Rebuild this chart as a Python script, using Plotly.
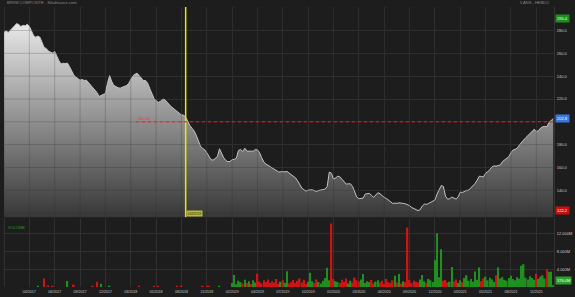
import plotly.graph_objects as go
import pandas as pd

# ---------------- data ----------------
dates = pd.date_range("2017-01-09", periods=261, freq="7D")

price = [
    278.5, 279.7, 278.3, 280.3, 281.7, 284.4, 286.1, 285.2, 283.5, 284.6,
    284.1, 285.5, 283.8, 279.7, 275.6, 274.2, 275.1, 274.2, 269.6, 265.2,
    264.3, 262.0, 261.1, 260.3, 261.7, 256.8, 253.6, 250.7, 251.3, 251.0,
    251.5, 248.4, 244.6, 241.1, 239.1, 237.9, 236.5, 237.1, 236.2, 236.5,
    234.5, 232.4, 230.4, 228.0, 225.7, 222.2, 223.1, 223.4, 224.9, 233.8,
    240.5, 235.3, 231.8, 230.9, 229.8, 229.5, 230.4, 231.2, 231.8, 233.6,
    237.0, 240.2, 241.7, 242.6, 240.5, 238.2, 236.2, 236.2, 233.8, 229.2,
    224.0, 220.5, 218.5, 217.0, 217.9, 219.6, 219.6, 217.9, 215.6, 213.5,
    212.1, 210.6, 208.9, 207.7, 206.0, 206.0, 204.0, 200.5, 196.7, 194.4,
    192.0, 188.3, 182.8, 178.7, 176.7, 175.5, 172.9, 169.1, 166.8, 166.5,
    167.7, 169.4, 176.4, 172.3, 168.5, 166.2, 165.0, 165.3, 166.8, 167.1,
    168.2, 174.9, 175.8, 174.0, 176.9, 174.3, 174.6, 174.3, 174.3, 175.8,
    175.4, 172.9, 168.5, 164.8, 163.0, 161.9, 160.1, 159.0, 158.1, 156.9,
    156.1, 156.3, 156.1, 156.2, 156.5, 155.0, 153.5, 152.4, 150.9, 148.3,
    144.8, 141.9, 140.5, 139.3, 140.2, 140.5, 140.5, 139.6, 139.0, 139.9,
    140.5, 140.5, 141.0, 143.4, 156.0, 155.0, 149.8, 150.9, 152.4, 151.8,
    149.8, 146.9, 145.4, 145.7, 145.7, 143.4, 138.7, 134.1, 132.6, 132.6,
    133.2, 136.7, 137.0, 137.3, 135.6, 133.8, 135.9, 137.9, 137.0, 135.3,
    133.8, 132.9, 131.5, 129.7, 128.5, 128.8, 128.5, 129.1, 128.5, 128.5,
    128.2, 127.6, 126.5, 125.0, 124.2, 123.0, 122.2, 123.0, 126.2, 127.9,
    127.7, 128.5, 129.4, 130.0, 131.5, 136.7, 141.3, 144.2, 143.4, 134.9,
    132.3, 132.6, 134.1, 133.5, 132.3, 134.1, 138.4, 138.1, 139.3, 139.9,
    140.2, 141.9, 144.0, 146.0, 148.9, 152.4, 152.1, 151.8, 155.0, 156.2,
    158.2, 160.5, 161.4, 161.2, 161.7, 162.3, 165.2, 166.9, 167.8, 169.5,
    173.0, 175.3, 175.9, 177.1, 179.7, 182.3, 184.1, 186.1, 187.8, 189.6,
    191.9, 193.4, 191.6, 192.2, 194.5, 195.7, 196.0, 195.8, 199.5, 201.2,
    202.8,
]

# volume in millions
volume = [
    0, 0, 0, 0, 0, 0, 0, 0, 0, 0,
    0, 0, 0, 0, 0, 0, 150, 0, 0, 1900,
    0, 340, 0, 300, 0, 0, 0, 0, 0, 0,
    1380, 0, 0, 560, 0, 0, 0, 0, 0, 0,
    0, 0, 150, 0, 1160, 0, 710, 0, 0, 0,
    150, 0, 0, 0, 0, 0, 0, 0, 0, 0,
    0, 0, 0, 0, 150, 0, 0, 0, 0, 0,
    0, 300, 0, 300, 0, 0, 0, 0, 0, 0,
    0, 0, 150, 0, 300, 0, 0, 0, 0, 0,
    0, 0, 0, 0, 100, 0, 100, 100, 0, 0,
    0, 0, 150, 0, 0, 0, 0, 0, 900, 2700,
    600, 1400, 1100, 800, 1600, 900, 1300, 700, 1500, 1000,
    3000, 1200, 800, 1500, 1100, 1700, 900, 1300, 1000, 1800,
    700, 1200, 1500, 900, 3550, 800, 1100, 1600, 900, 1400,
    1900, 1000, 1600, 700, 1200, 3200, 1300, 900, 1700, 1100,
    800, 1400, 2000, 4300, 1500, 14250, 1800, 1300, 1100, 900,
    1600, 1200, 1900, 800, 1400, 1000, 2100, 1500, 1200, 1700,
    2900, 900, 1300, 1100, 1600, 800, 1200, 1500, 1000, 1400,
    700, 1800, 1100, 900, 1500, 2500, 1000, 2900, 800, 1300,
    1100, 13350, 1600, 900, 1400, 1200, 1000, 1700, 2700, 1300,
    900, 1800, 1500, 1100, 6020, 12080, 2200, 8490, 1400, 1600,
    1000, 1200, 4500, 1300, 1700, 900, 1500, 1100, 2000, 2650,
    1400, 1800, 1200, 3500, 1600, 4400, 1300, 1900, 2300, 1500,
    2100, 1700, 1200, 2650, 4400, 1900, 2200, 1600, 1400, 2000,
    2500, 1800, 1500, 2200, 1900, 4750, 5100, 2100, 1700, 2400,
    2000, 1600, 3000, 1800, 2300, 2600, 1900, 4000, 3400, 3400,
    376,
]

price_tick_vals = [120, 140, 160, 180, 200, 220, 240, 260, 280, 300]
price_tick_text = ["", "140.0", "160.0", "180.0", "", "220.0", "240.0", "260.0", "280.0", ""]
vol_tick_vals = [4000, 8000, 12000]
vol_tick_text = ["4.000M", "8.000M", "12.000M"]

price_max, price_last, price_min = 290.4, 202.8, 122.2
vol_last_label = "376.0M"
cursor_date = pd.Timestamp("2018-09-03")
cursor_label = "03/09/18"
cross_value = 200.0
title_left = "BRVM COMPOSITE - Sikafinance.com"
title_right = "5 ANS - HEBDO"

# ---------------- figure ----------------
BG = "#1d1d1d"
GRID = "#303030"
GREEN = "#1f8f1f"
RED = "#cc1414"

tick_dates = list(dates[::12])
tick_text = [""] + [d.strftime("%m/%Y") for d in tick_dates[1:]]

bar_colors = [GREEN] + [GREEN if price[i] >= price[i - 1] else RED for i in range(1, len(price))]

fig = go.Figure()
fig.add_trace(go.Scatter(
    x=dates, y=price, mode="lines", fill="tozeroy",
    line=dict(color="#c4c4c4", width=1),
    fillgradient=dict(type="vertical", colorscale=[[0, "#363636"], [1, "#ececec"]],
                      start=116.5, stop=290),
    xaxis="x", yaxis="y", hoverinfo="skip", showlegend=False,
))
fig.add_trace(go.Bar(
    x=dates, y=volume, marker=dict(color=bar_colors, line=dict(width=0)),
    width=0.75 * 7 * 86400000, xaxis="x2", yaxis="y2",
    hoverinfo="skip", showlegend=False,
))

x_range = [dates[0] - pd.Timedelta(hours=80), dates[-1] + pd.Timedelta(hours=62)]
axis_font = dict(family="Liberation Sans, Arial", size=4, color="#c8c8c8")

fig.update_layout(
    width=575, height=297,
    margin=dict(l=3, r=16, t=7, b=8),
    paper_bgcolor=BG, plot_bgcolor=BG,
    xaxis=dict(domain=[0, 1], anchor="y", range=x_range, type="date",
               tickvals=tick_dates, ticktext=[""] * len(tick_dates),
               showgrid=True, gridcolor=GRID, gridwidth=1, zeroline=False,
               showline=False, ticks=""),
    xaxis2=dict(domain=[0, 1], anchor="y2", range=x_range, type="date", matches="x",
                tickvals=tick_dates, ticktext=tick_text,
                tickfont=dict(family="Liberation Sans, Arial", size=3.6, color="#c8c8c8"),
                showgrid=True, gridcolor=GRID, gridwidth=1, zeroline=False,
                showline=False, ticks="", ticklabelstandoff=1),
    yaxis=dict(domain=[0.2495, 1], anchor="x", range=[116.5, 300.6], side="right",
               tickvals=price_tick_vals, ticktext=price_tick_text, tickfont=axis_font,
               showgrid=True, gridcolor=GRID, gridwidth=1, zeroline=False,
               showline=True, linecolor="#333333", ticks="", ticklabelstandoff=1),
    yaxis2=dict(domain=[0, 0.2475], anchor="x2", range=[0, 15560], side="right",
                tickvals=vol_tick_vals, ticktext=vol_tick_text, tickfont=axis_font,
                showgrid=True, gridcolor=GRID, gridwidth=1, zeroline=False,
                showline=True, linecolor="#333333", ticks="", ticklabelstandoff=1),
)

# faint grid visible through the price area (as in the reference)
for d in tick_dates:
    fig.add_shape(type="line", xref="x", yref="y domain", x0=d, x1=d, y0=0, y1=1,
                  layer="above", line=dict(color="rgba(40,40,40,0.22)", width=1))
for v in price_tick_vals:
    fig.add_shape(type="line", xref="x domain", yref="y", x0=0, x1=1, y0=v, y1=v,
                  layer="above", line=dict(color="rgba(40,40,40,0.22)", width=1))

# cursor (yellow vertical line) and crosshair (red dotted)
fig.add_shape(type="line", xref="x", yref="y domain", x0=cursor_date, x1=cursor_date,
              y0=0, y1=1, line=dict(color="#e8e800", width=1.5))
cross_start = dates[62] + pd.Timedelta(days=3)
fig.add_shape(type="line", xref="x", yref="y", x0=cross_start, x1=x_range[1],
              y0=cross_value, y1=cross_value, line=dict(color="#ff1a1a", width=1, dash="dot"))

small = dict(family="Liberation Sans, Arial", size=4)
ann = [
    dict(text=title_left, xref="paper", yref="paper", x=0.003, y=1, xanchor="left",
         yanchor="bottom", font=dict(small, color="#8a8a8a"), showarrow=False),
    dict(text=title_right, xref="paper", yref="paper", x=0.995, y=1, xanchor="right",
         yanchor="bottom", font=dict(small, color="#8a8a8a"), showarrow=False),
    dict(text="%.2f" % cross_value, xref="x", yref="y", x=cross_start, y=cross_value,
         xanchor="left", yanchor="bottom", yshift=-1, font=dict(small, color="#ff3030"),
         showarrow=False),
    dict(text=cursor_label, xref="x", yref="y domain", x=cursor_date, y=0,
         xanchor="left", yanchor="bottom", bgcolor="#b8b83a", borderpad=0.5,
         font=dict(family="Liberation Sans, Arial", size=3.5, color="#303010"), showarrow=False),
    dict(text="VOLUME", xref="paper", yref="y2 domain", x=0.006, y=0.93,
         xanchor="left", yanchor="top", font=dict(small, color="#2a9a2a"), showarrow=False),
    dict(text="%.1f" % price_max, xref="paper", yref="y", x=1, y=price_max, xanchor="left",
         xshift=1, bgcolor="#1a8f1a", borderpad=1, font=dict(small, color="#ffffff"), showarrow=False),
    dict(text="%.1f" % price_last, xref="paper", yref="y", x=1, y=price_last, xanchor="left",
         xshift=1, bgcolor="#3a78e0", borderpad=1, font=dict(small, color="#ffffff"), showarrow=False),
    dict(text="%.1f" % price_min, xref="paper", yref="y", x=1, y=price_min, xanchor="left",
         xshift=1, bgcolor="#c81010", borderpad=1, font=dict(small, color="#ffffff"), showarrow=False),
    dict(text=vol_last_label, xref="paper", yref="y2", x=1, y=volume[-1], xanchor="left",
         yanchor="bottom", xshift=1, bgcolor="#2aa02a", borderpad=1,
         font=dict(small, color="#ffffff"), showarrow=False),
]
fig.update_layout(annotations=ann)

fig.write_html("out.html")
